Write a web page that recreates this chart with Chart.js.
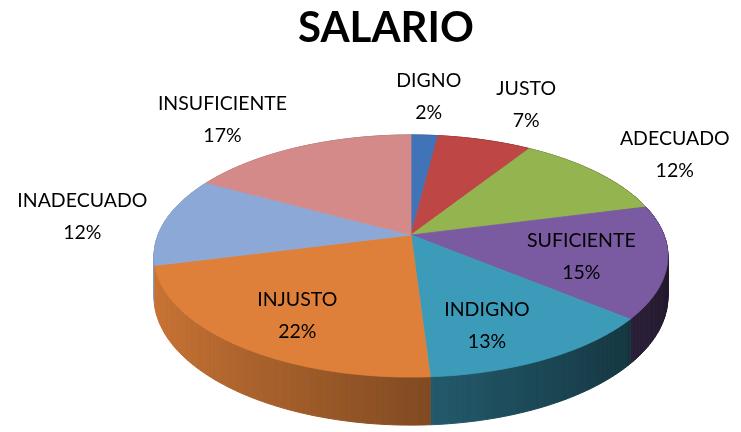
<!DOCTYPE html>
<html>
<head>
<meta charset="utf-8">
<script src="https://cdn.jsdelivr.net/npm/chart.js@4.4.0/dist/chart.umd.min.js"></script>
<style>
html,body{margin:0;padding:0;background:#ffffff;}
#wrap{width:741px;height:432px;position:relative;}
</style>
</head>
<body>
<div id="wrap"><canvas id="c" width="741" height="432"></canvas></div>
<script>
// ---- data ----
const categories = ['DIGNO','JUSTO','ADECUADO','SUFICIENTE','INDIGNO','INJUSTO','INADECUADO','INSUFICIENTE'];
const percentValues = [2, 7, 12, 15, 13, 22, 12, 17];
const chartTitle = 'SALARIO';

// ---- styles / layout (kept apart from the data) ----
const sliceColors = ['#4173B9','#BE4644','#94B450','#7A5AA0','#3C9BB9','#DE803A','#8CA8D7','#D58A8A'];
const labelLayout = [
  {r:1.486, dx:-1}, {r:1.463, dx:14}, {r:1.324, dx:25}, {r:0.814, dx:-37},
  {r:0.767, dx:-24}, {r:0.761, dx:13}, {r:1.293, dx:-13}, {r:1.371, dx:-42}
];
const VIEW = {cx:411, cy:235, rx:253, ry:117.4, k:-0.1737, depth:39.7};
const LABEL_FONT = '19.5px Lato';
const LINE_GAP = 32;

function hexToRgb(h){const n=parseInt(h.slice(1),16);return [(n>>16)&255,(n>>8)&255,n&255];}
function proj(a, r){
  const u = r*Math.cos(a), v = r*Math.sin(a);
  const w = 1 + VIEW.k*v;
  return {x: VIEW.cx + VIEW.rx*u/w, y: VIEW.cy + VIEW.ry*v/w, w: w};
}
function angles(el){ return el.getProps(['startAngle','endAngle'], true); }

const pie3d = {
  id: 'pie3d',
  beforeDatasetsDraw(chart){
    const ctx = chart.ctx;
    const meta = chart.getDatasetMeta(0);
    const segs = [];
    meta.data.forEach((el, i) => {
      const {startAngle:s, endAngle:e} = angles(el);
      const col = hexToRgb(sliceColors[i]);
      const n = Math.max(2, Math.ceil((e - s) / (Math.PI/180)));
      for (let j = 0; j < n; j++){
        const a1 = s + (e - s)*j/n, a2 = s + (e - s)*(j+1)/n;
        segs.push({a1, a2, col, key: Math.sin((a1 + a2)/2)});
      }
    });
    segs.sort((p, q) => p.key - q.key);
    ctx.save();
    for (const sg of segs){
      const p1 = proj(sg.a1, 1), p2 = proj(sg.a2, 1);
      const d1 = VIEW.depth/p1.w, d2 = VIEW.depth/p2.w;
      const am = (sg.a1 + sg.a2)/2;
      const f = Math.max(0.22, 0.6 - 0.32*Math.cos(am));
      const c = 'rgb(' + Math.round(sg.col[0]*f) + ',' + Math.round(sg.col[1]*f) + ',' + Math.round(sg.col[2]*f) + ')';
      ctx.beginPath();
      ctx.moveTo(p1.x, p1.y); ctx.lineTo(p2.x, p2.y);
      ctx.lineTo(p2.x, p2.y + d2); ctx.lineTo(p1.x, p1.y + d1);
      ctx.closePath();
      ctx.fillStyle = c; ctx.strokeStyle = c; ctx.lineWidth = 1;
      ctx.fill(); ctx.stroke();
    }
    // top faces
    const apex = proj(0, 0);
    meta.data.forEach((el, i) => {
      const {startAngle:s, endAngle:e} = angles(el);
      const n = Math.max(2, Math.ceil((e - s) / (Math.PI/360)));
      ctx.beginPath();
      ctx.moveTo(apex.x, apex.y);
      for (let j = 0; j <= n; j++){
        const p = proj(s + (e - s)*j/n, 1);
        ctx.lineTo(p.x, p.y);
      }
      ctx.closePath();
      ctx.fillStyle = sliceColors[i]; ctx.strokeStyle = sliceColors[i]; ctx.lineWidth = 0.8;
      ctx.fill(); ctx.stroke();
    });
    ctx.restore();
    return false;
  },
  afterDraw(chart){
    const ctx = chart.ctx;
    const meta = chart.getDatasetMeta(0);
    const labels = chart.data.labels;
    const vals = chart.data.datasets[0].data;
    ctx.save();
    ctx.font = LABEL_FONT;
    ctx.fillStyle = '#000';
    ctx.textAlign = 'center';
    ctx.textBaseline = 'middle';
    meta.data.forEach((el, i) => {
      const {startAngle:s, endAngle:e} = angles(el);
      const lay = labelLayout[i];
      const p = proj((s + e)/2, lay.r);
      const x = p.x + lay.dx;
      ctx.fillText(labels[i], x, p.y - LINE_GAP/2);
      ctx.fillText(vals[i] + '%', x, p.y + LINE_GAP/2);
    });
    ctx.restore();
  }
};

new Chart(document.getElementById('c'), {
  type: 'pie',
  data: {
    labels: categories,
    datasets: [{ data: percentValues, backgroundColor: sliceColors, borderWidth: 0 }]
  },
  options: {
    responsive: false,
    animation: false,
    devicePixelRatio: 1,
    events: [],
    layout: { padding: { left: 31, right: 0, top: 0, bottom: 0 } },
    plugins: {
      legend: { display: false },
      tooltip: { enabled: false },
      title: {
        display: true,
        text: chartTitle,
        color: '#000',
        font: { family: 'Lato', size: 42, weight: 'bold' },
        padding: { top: 3, bottom: 0 }
      }
    }
  },
  plugins: [pie3d]
});
</script>
</body>
</html>
